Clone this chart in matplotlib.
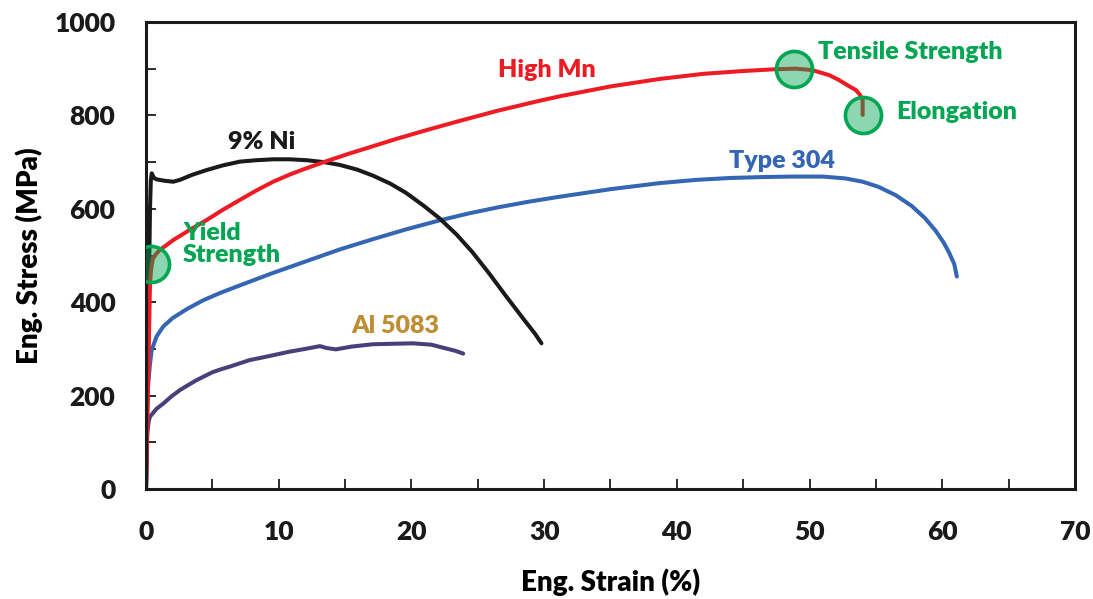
import matplotlib.pyplot as plt
from matplotlib.ticker import MultipleLocator

plt.rcParams['font.family'] = ['Lato', 'DejaVu Sans']

# strain (%) / stress (MPa)
mn_strain = [0, 0.15, 0.3, 0.38, 0.5, 0.75, 1.05, 2.05, 3.3, 4.57, 5.8, 7.07, 8.3, 9.58,
             10.8, 12.1, 13.7, 15.4, 17.1, 18.9, 21.2, 23.6, 26.5, 29.6, 31.2, 35.0,
             38.7, 42.0, 45.0, 47.5, 49.0, 50.2, 51.5, 52.2, 52.95, 53.5, 53.8, 54.0, 54.0]
mn_stress = [0, 220, 440, 470, 492, 503, 512, 533, 555, 576, 598, 619, 639, 658,
             673, 687, 703, 719, 734, 750, 769, 788, 810, 831, 841, 862,
             878, 889, 895, 899, 900, 897, 886, 876, 863, 854, 844, 833, 801]

ss_strain = [0, 0.03, 0.08, 0.17, 0.3, 0.43, 0.8, 1.3, 2.0, 3.06, 4.3, 5.6, 7.07, 9.5,
             12.1, 14.6, 17.1, 19.6, 22.1, 24.3, 26.5, 28.8, 31.2, 35.0, 38.7, 41.5,
             44.0, 46.5, 48.7, 51.0, 52.7, 54.0, 55.2, 56.5, 57.7, 58.7, 59.5, 60.1,
             60.5, 60.9, 61.1]
ss_stress = [0, 100, 180, 227, 268, 298, 327, 348, 366, 385, 404, 420, 436, 462,
             488, 513, 535, 556, 575, 590, 603, 615, 626, 642, 655, 662,
             666, 668, 669, 669, 665, 658, 647, 629, 606, 580, 553, 528,
             507, 482, 455]

ni_strain = [0, 0.2, 0.3, 0.36, 0.43, 0.6, 0.8, 1.4, 2.05, 2.56, 3.5, 4.57, 5.8, 7.07,
             8.3, 9.58, 10.8, 12.1, 13.4, 14.6, 15.9, 17.1, 18.4, 19.6, 20.9, 22.1,
             23.4, 24.6, 25.9, 27.1, 28.5, 29.3, 29.8]
ni_stress = [0, 400, 600, 660, 676, 666, 663, 660, 658, 662, 673, 683, 693, 701,
             704, 706, 706, 704, 700, 694, 684, 671, 654, 634, 607, 580,
             545, 507, 460, 414, 362, 333, 312]

al_strain = [0, 0.05, 0.1, 0.2, 0.3, 0.8, 1.3, 1.9, 2.56, 3.2, 3.8, 5.0, 5.6, 6.3, 7.8,
             9.0, 10.8, 12.0, 13.1, 13.6, 14.3, 15.5, 17.1, 18.6, 20.1, 21.5, 22.6,
             23.3, 23.9]
al_stress = [0, 80, 120, 145, 155, 172, 183, 198, 212, 223, 233, 250, 256, 262, 276,
             283, 294, 300, 306, 302, 299, 305, 310, 311, 312, 309, 301,
             296, 290]

yield_pt = (0.38, 482)

RED = '#ED1C24'
BLUE = '#3466B4'
BLACK = '#1A1A1A'
PURPLE = '#4A3F7A'
GOLD = '#BF8D33'
GREEN = '#00A651'
W = 'heavy'

fig = plt.figure(figsize=(10.93, 5.99), dpi=100)
ax = fig.add_axes([0.1336, 0.1836, 0.8499, 0.7797])

lw = 2.9
ax.plot(al_strain, al_stress, color=PURPLE, lw=lw, solid_capstyle='round', solid_joinstyle='round')
ax.plot(ss_strain, ss_stress, color=BLUE, lw=lw, solid_capstyle='round', solid_joinstyle='round')
ax.plot(ni_strain, ni_stress, color=BLACK, lw=lw, solid_capstyle='round', solid_joinstyle='round')
ax.plot(mn_strain, mn_stress, color=RED, lw=lw, solid_capstyle='round', solid_joinstyle='round')

# key points on the High Mn curve
i_uts = mn_stress.index(max(mn_stress))
circ_x = [yield_pt[0], mn_strain[i_uts] - 0.2, mn_strain[-1]]
circ_y = [yield_pt[1], mn_stress[i_uts], mn_stress[-1]]
ax.plot(circ_x, circ_y, ls='none', marker='o', markersize=26,
        markerfacecolor=(0.0, 0.65, 0.32, 0.45), markeredgecolor=GREEN,
        markeredgewidth=2.6, zorder=5)

fs = 18
ax.text(30.2, 897, 'High Mn', color=RED, fontsize=fs, fontweight=W, ha='center', va='center')
ax.text(8.7, 743, '9% Ni', color=BLACK, fontsize=fs, fontweight=W, ha='center', va='center')
ax.text(47.9, 702, 'Type 304', color=BLUE, fontsize=fs, fontweight=W, ha='center', va='center')
ax.text(18.8, 349, 'Al 5083', color=GOLD, fontsize=fs, fontweight=W, ha='center', va='center')
ax.text(2.8, 525, 'Yield\nStrength', color=GREEN, fontsize=fs, fontweight=W, ha='left',
        va='center', linespacing=1.0)
ax.text(50.6, 936, 'Tensile Strength', color=GREEN, fontsize=fs, fontweight=W, ha='left', va='center')
ax.text(56.5, 807, 'Elongation', color=GREEN, fontsize=fs, fontweight=W, ha='left', va='center')

ax.set_xlim(0, 70)
ax.set_ylim(0, 1000)
ax.xaxis.set_major_locator(MultipleLocator(10))
ax.xaxis.set_minor_locator(MultipleLocator(5))
ax.yaxis.set_major_locator(MultipleLocator(200))
ax.yaxis.set_minor_locator(MultipleLocator(100))
ax.tick_params(which='both', direction='in', length=7, width=1.3, colors=BLACK,
               labelsize=19, top=False, right=False)
ax.tick_params(axis='x', pad=22)
ax.tick_params(axis='y', pad=22)
for lab in ax.get_xticklabels() + ax.get_yticklabels():
    lab.set_fontweight(W)
for s in ax.spines.values():
    s.set_linewidth(2.2)
    s.set_color(BLACK)

ax.set_xlabel('Eng. Strain (%)', fontsize=20, fontweight=W, labelpad=18)
ax.set_ylabel('Eng. Stress (MPa)', fontsize=20, fontweight=W, labelpad=8)

fig.savefig('out.png', dpi=100)
